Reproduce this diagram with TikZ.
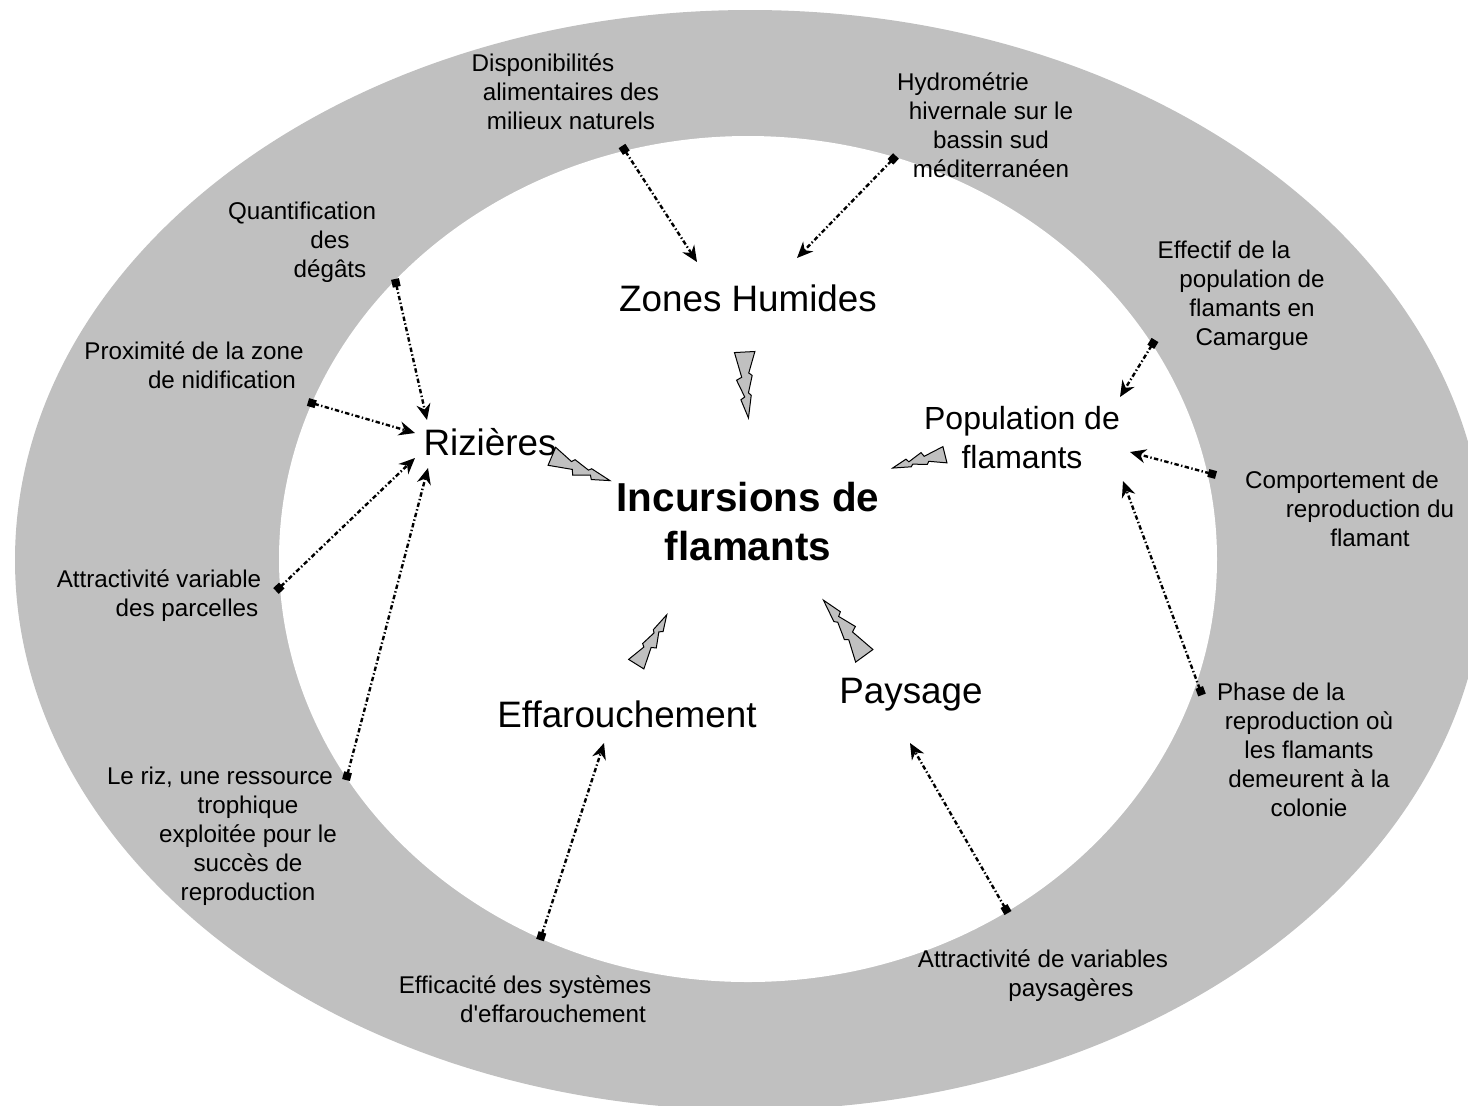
\documentclass[tikz,border=0pt]{standalone}
\usepackage{fontspec}
\setmainfont{Liberation Sans}
\usetikzlibrary{arrows.meta}
\definecolor{anneau}{RGB}{192,192,192}
\newcommand{\decal}{\hspace*{28pt}}
\newcommand{\petit}{\fontsize{12.1}{14.5}\selectfont}
\newcommand{\grand}{\fontsize{18.4}{19.5}\selectfont}
\newcommand{\moyen}{\fontsize{16}{19.5}\selectfont}
\newcommand{\centre}{\fontsize{20.2}{24.5}\selectfont\bfseries}

\begin{document}
\begin{tikzpicture}[x=0.5pt,y=-0.5pt]
	\tikzset{every node/.style={inner sep=0pt}}
	\tikzset{facteur/.style={font=\petit,align=center}}
	\tikzset{theme/.style={font=\grand,align=center}}
	\tikzset{lien/.style={line width=1.2pt,dash pattern=on 2.2pt off 1.2pt on 0.7pt off 1.2pt,
		{Square[length=4pt,width=4pt]}-{Stealth[length=8pt,width=7pt]}}}
	\tikzset{eclair/.pic={\draw[fill=anneau,line width=0.5pt,line join=miter]
		(0,0.16) -- (0.38,0.07) -- (0.42,0.15) -- (0.68,0.04) -- (0.72,0.10) -- (1,0)
		-- (0.66,-0.06) -- (0.62,-0.02) -- (0.36,-0.09) -- (0.32,-0.04) -- (0,-0.15) -- cycle;}}
	\useasboundingbox (0,0) rectangle (1468,1105);
	\fill[white] (0,0) rectangle (1468,1105);
	\clip (0,0) rectangle (1468,1105);
	\fill[anneau] (750,560) ellipse [x radius=367.5pt,y radius=275pt];
	\fill[white] (748,559) ellipse [x radius=234.5pt,y radius=211.5pt];

	\node[font=\centre,align=center] (incursions) at (748,522) {Incursions de\\flamants};
	\node[theme] (zones) at (748,298) {Zones Humides};
	\node[theme] (rizieres) at (490,442) {Rizières};
	\node[theme,font=\moyen] (population) at (1022,438) {Population de\\flamants};
	\node[theme] (effarou) at (627,714) {Effarouchement};
	\node[theme] (paysage) at (911,695) {Paysage};

	\node[facteur] (dispo) at (571,92) {Disponibilités\decal\\alimentaires des\\milieux naturels};
	\node[facteur] (hydro) at (991,125) {Hydrométrie\decal\\hivernale sur le\\bassin sud\\méditerranéen};
	\node[facteur] (quantif) at (330,242) {Quantification\decal\\des\\dégâts};
	\node[facteur] (proxim) at (222,365) {Proximité de la zone\decal\\de nidification};
	\node[facteur] (attract) at (187,596) {Attractivité variable\decal\\des parcelles};
	\node[facteur] (riz) at (248,836) {Le riz, une ressource\decal\\trophique\\exploitée pour le\\succès de\\reproduction};
	\node[facteur] (effectif) at (1252,296) {Effectif de la\decal\\population de\\flamants en\\Camargue};
	\node[facteur] (comport) at (1370,509) {Comportement de\decal\\reproduction du\\flamant};
	\node[facteur] (phase) at (1309,750) {Phase de la\decal\\reproduction où\\les flamants\\demeurent à la\\colonie};
	\node[facteur] (efficac) at (553,999) {Efficacité des systèmes\decal\\d\textquotesingle effarouchement};
	\node[facteur] (attrpays) at (1071,976) {Attractivité de variables\decal\\paysagères};

	\coordinate (dispo-p) at (622,146);
	\coordinate (hydro-p) at (896,156);
	\coordinate (quantif-p) at (395,279);
	\coordinate (proxim-p) at (308,402);
	\coordinate (attract-p) at (276,591);
	\coordinate (riz-p) at (346,780);
	\coordinate (effectif-p) at (1155,340);
	\coordinate (comport-p) at (1216,475);
	\coordinate (phase-p) at (1202,695);
	\coordinate (efficac-p) at (540,940);
	\coordinate (attrpays-p) at (1008,913);

	\coordinate (zones-g) at (697,262);
	\coordinate (zones-d) at (797,258);
	\coordinate (rizieres-1) at (427,420);
	\coordinate (rizieres-2) at (415,433);
	\coordinate (rizieres-3) at (415,458);
	\coordinate (rizieres-4) at (428,468);
	\coordinate (population-1) at (1120,397);
	\coordinate (population-2) at (1130,452);
	\coordinate (population-3) at (1123,481);
	\coordinate (effarou-b) at (604,743);
	\coordinate (paysage-b) at (910,743);

	\draw[lien] (dispo-p) -- (zones-g);
	\draw[lien] (hydro-p) -- (zones-d);
	\draw[lien] (quantif-p) -- (rizieres-1);
	\draw[lien] (proxim-p) -- (rizieres-2);
	\draw[lien] (attract-p) -- (rizieres-3);
	\draw[lien] (riz-p) -- (rizieres-4);
	\draw[lien] (effectif-p) -- (population-1);
	\draw[lien] (comport-p) -- (population-2);
	\draw[lien] (phase-p) -- (population-3);
	\draw[lien] (efficac-p) -- (effarou-b);
	\draw[lien] (attrpays-p) -- (paysage-b);

	\pic[rotate=-87,scale=66] at (745,352) {eclair};
	\pic[rotate=-23,scale=63] at (552,456) {eclair};
	\pic[rotate=194,scale=54] at (945,455) {eclair};
	\pic[rotate=58,scale=58] at (636,664) {eclair};
	\pic[rotate=126,scale=69] at (864,656) {eclair};
\end{tikzpicture}
\end{document}
